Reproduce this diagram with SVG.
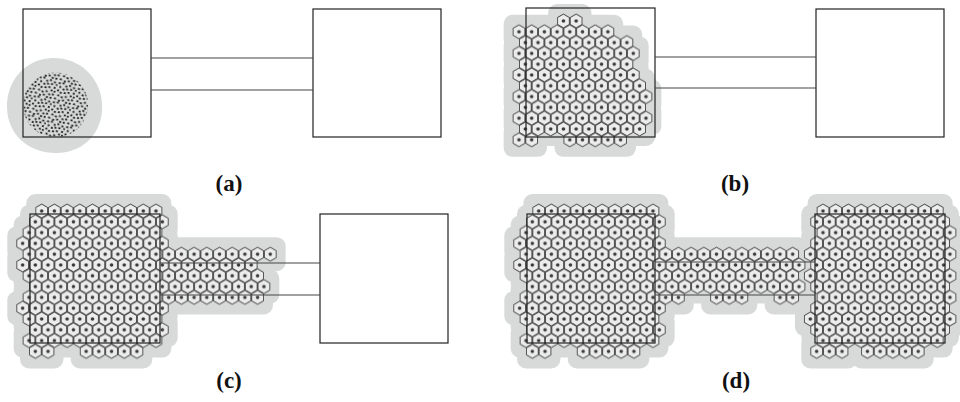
<svg xmlns="http://www.w3.org/2000/svg" xmlns:xlink="http://www.w3.org/1999/xlink" width="960" height="402" viewBox="0 0 960 402">
<style>
.box{fill:none;stroke:#222;stroke-width:1.2}
.cor{fill:none;stroke:#444;stroke-width:1.2}
.halo{fill:#d8dada;stroke:#d8dada;stroke-width:18;stroke-linejoin:round}
.hex{fill:url(#hx);stroke:none}
.lbl{font-family:"Liberation Serif","Times New Roman",serif;font-weight:bold;font-size:23px;text-anchor:middle;fill:#111}
</style>
<defs>
<pattern id="hx" patternUnits="userSpaceOnUse" width="12.7" height="16">
<path d="M6.35 1.1L12.33 4.55L12.33 11.45L6.35 14.9L0.37 11.45L0.37 4.55Z" fill="#ececec" stroke="#000" stroke-width="0.72"/>
<circle cx="6.35" cy="8" r="1.8" fill="#3a3a3a"/>
</pattern>
<pattern id="dots" patternUnits="userSpaceOnUse" width="20" height="20" patternTransform="rotate(17)">
<g fill="#111">
<rect x="0.5" y="1.2" width="2" height="1.7"/><rect x="4.3" y="0.4" width="2" height="1.7"/><rect x="7.8" y="2.6" width="2" height="1.7"/><rect x="11.2" y="0.9" width="2" height="1.7"/><rect x="15.6" y="1.8" width="2" height="1.7"/><rect x="18.3" y="3.9" width="1.6" height="1.7"/><rect x="2.1" y="4.7" width="2" height="1.7"/><rect x="5.9" y="6.3" width="2" height="1.7"/><rect x="9.4" y="5.1" width="2" height="1.7"/><rect x="13.3" y="4.4" width="2" height="1.7"/><rect x="16.9" y="7.2" width="2" height="1.7"/><rect x="0.9" y="8.6" width="2" height="1.7"/><rect x="4.2" y="10.1" width="2" height="1.7"/><rect x="8.1" y="9.3" width="2" height="1.7"/><rect x="11.7" y="8.0" width="2" height="1.7"/><rect x="14.8" y="10.6" width="2" height="1.7"/><rect x="18.1" y="10.9" width="1.8" height="1.7"/><rect x="2.6" y="13.4" width="2" height="1.7"/><rect x="6.5" y="14.2" width="2" height="1.7"/><rect x="10.3" y="12.7" width="2" height="1.7"/><rect x="13.6" y="14.9" width="2" height="1.7"/><rect x="17.2" y="14.1" width="2" height="1.7"/><rect x="0.4" y="17.3" width="2" height="1.7"/><rect x="4.8" y="18.1" width="2" height="1.7"/><rect x="8.6" y="16.8" width="2" height="1.7"/><rect x="12.2" y="18.2" width="2" height="1.7"/><rect x="15.9" y="17.9" width="2" height="1.7"/>
</g>
</pattern>
<clipPath id="cloud"><circle cx="55.5" cy="105" r="32.5"/></clipPath>
<g id="bRows">
<rect width="25.4" height="16" transform="translate(557.1,13)"/>
<rect width="101.6" height="16" transform="translate(512.65,23.8)"/>
<rect width="114.3" height="16" transform="translate(519,34.6)"/>
<rect width="127" height="16" transform="translate(512.65,45.4)"/>
<rect width="114.3" height="16" transform="translate(519,56.2)"/>
<rect width="127" height="16" transform="translate(512.65,67)"/>
<rect width="127" height="16" transform="translate(519,77.8)"/>
<rect width="139.7" height="16" transform="translate(512.65,88.6)"/>
<rect width="127" height="16" transform="translate(519,99.4)"/>
<rect width="139.7" height="16" transform="translate(512.65,110.2)"/>
<rect width="127" height="16" transform="translate(519,121)"/>
<rect width="25.4" height="16" transform="translate(512.65,131.8)"/>
<rect width="63.5" height="16" transform="translate(563.45,131.8)"/>
</g>
<g id="cLeft">
<rect width="127" height="16" transform="translate(35.35,203)"/>
<rect width="139.7" height="16" transform="translate(29,213.8)"/>
<rect width="139.7" height="16" transform="translate(22.65,224.6)"/>
<rect width="152.4" height="16" transform="translate(16.3,235.4)"/>
<rect width="139.7" height="16" transform="translate(22.65,246.2)"/>
<rect width="152.4" height="16" transform="translate(16.3,257)"/>
<rect width="139.7" height="16" transform="translate(22.65,267.8)"/>
<rect width="139.7" height="16" transform="translate(29,278.6)"/>
<rect width="139.7" height="16" transform="translate(22.65,289.4)"/>
<rect width="152.4" height="16" transform="translate(16.3,300.2)"/>
<rect width="139.7" height="16" transform="translate(22.65,311)"/>
<rect width="139.7" height="16" transform="translate(29,321.8)"/>
<rect width="139.7" height="16" transform="translate(22.65,332.6)"/>
<rect width="25.4" height="16" transform="translate(29,343.4)"/>
<rect width="63.5" height="16" transform="translate(79.8,343.4)"/>
</g>
<g id="cCorr">
<rect width="114.3" height="16" transform="translate(162.35,246.2)"/>
<rect width="88.9" height="16" transform="translate(168.7,257)"/>
<rect width="101.6" height="16" transform="translate(162.35,267.8)"/>
<rect width="101.6" height="16" transform="translate(168.7,278.6)"/>
<rect width="101.6" height="16" transform="translate(162.35,289.4)"/>
</g>
<g id="dCorr">
<rect width="139.7" height="16" transform="translate(659.35,246.2)"/>
<rect width="139.7" height="16" transform="translate(665.7,257)"/>
<rect width="139.7" height="16" transform="translate(659.35,267.8)"/>
<rect width="139.7" height="16" transform="translate(665.7,278.6)"/>
<rect width="25.4" height="16" transform="translate(659.35,289.4)"/>
<rect width="38.1" height="16" transform="translate(710.15,289.4)"/>
<rect width="25.4" height="16" transform="translate(773.65,289.4)"/>
</g>
<g id="dRight">
<rect width="127" height="16" transform="translate(816.65,203)"/>
<rect width="139.7" height="16" transform="translate(810.3,213.8)"/>
<rect width="139.7" height="16" transform="translate(816.65,224.6)"/>
<rect width="139.7" height="16" transform="translate(810.3,235.4)"/>
<rect width="152.4" height="16" transform="translate(803.95,246.2)"/>
<rect width="139.7" height="16" transform="translate(810.3,257)"/>
<rect width="152.4" height="16" transform="translate(803.95,267.8)"/>
<rect width="139.7" height="16" transform="translate(810.3,278.6)"/>
<rect width="139.7" height="16" transform="translate(816.65,289.4)"/>
<rect width="139.7" height="16" transform="translate(810.3,300.2)"/>
<rect width="152.4" height="16" transform="translate(803.95,311)"/>
<rect width="139.7" height="16" transform="translate(810.3,321.8)"/>
<rect width="127" height="16" transform="translate(816.65,332.6)"/>
<rect width="38.1" height="16" transform="translate(810.3,343.4)"/>
<rect width="63.5" height="16" transform="translate(861.1,343.4)"/>
</g>
</defs>
<rect width="960" height="402" fill="#fff"/>

<g id="panel-a">
<path d="M52 58 C78 57 100 76 102 103 C104 130 86 152 58 153 C30 154 8 136 7 108 C6 80 26 59 52 58 Z" fill="#d8dada"/>
<rect x="23.5" y="72" width="66" height="65" fill="url(#dots)" clip-path="url(#cloud)"/>
<rect class="box" x="23" y="9" width="128" height="128"/>
<rect class="box" x="313" y="9" width="128" height="128"/>
<g class="cor"><line x1="151" y1="58" x2="313" y2="58"/><line x1="151" y1="90" x2="313" y2="90"/></g>
<text class="lbl" x="229" y="191">(a)</text>
</g>

<g id="panel-b">
<use href="#bRows" class="halo"/>
<use href="#bRows" class="hex"/>
<rect class="box" x="526" y="8" width="129" height="129"/>
<rect class="box" x="816" y="9" width="128" height="128"/>
<g class="cor"><line x1="655" y1="57" x2="816" y2="57"/><line x1="655" y1="88" x2="816" y2="88"/></g>
<text class="lbl" x="735" y="191">(b)</text>
</g>

<g id="panel-c">
<use href="#cLeft" class="halo"/>
<use href="#cCorr" class="halo"/>
<use href="#cLeft" class="hex"/>
<use href="#cCorr" class="hex"/>
<rect class="box" x="30" y="214" width="130" height="129"/>
<rect class="box" x="320" y="214" width="128" height="129"/>
<g class="cor"><line x1="160" y1="263" x2="320" y2="263"/><line x1="160" y1="295" x2="320" y2="295"/></g>
<text class="lbl" x="229" y="388">(c)</text>
</g>

<g id="panel-d">
<use href="#cLeft" class="halo" transform="translate(497,0)"/>
<use href="#dCorr" class="halo"/>
<use href="#dRight" class="halo"/>
<use href="#cLeft" class="hex" transform="translate(497,0)"/>
<use href="#dCorr" class="hex"/>
<use href="#dRight" class="hex"/>
<rect class="box" x="527" y="214" width="128" height="129"/>
<rect class="box" x="815" y="214" width="130" height="129"/>
<g class="cor"><line x1="655" y1="262" x2="815" y2="262"/><line x1="655" y1="295" x2="815" y2="295"/></g>
<text class="lbl" x="736" y="388">(d)</text>
</g>
</svg>
